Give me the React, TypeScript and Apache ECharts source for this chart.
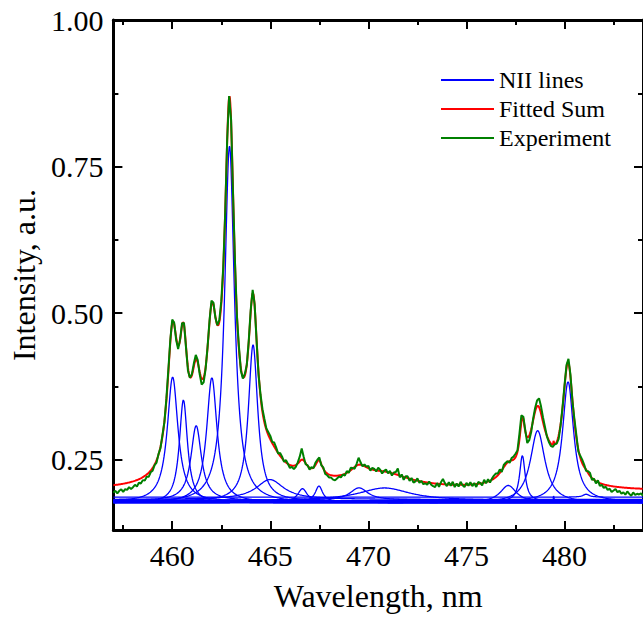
import React, { useEffect, useRef } from "react";
import * as echarts from "echarts";

const X_MIN = 457;
const X_MAX = 484;
const Y_MIN = 0.13;
const Y_MAX = 1.0;

const xTicksMajor = [460, 465, 470, 475, 480];
const xTicksMinor = [457.5, 462.5, 467.5, 472.5, 477.5, 482.5];
const yTicksMajor = [0.25, 0.5, 0.75, 1.0];
const yTicksMinor = [0.375, 0.625, 0.875];

// NII line components (centre nm, top value, own baseline, half width nm)
const peakCenter = [460.02, 460.57, 461.22, 462.02, 462.92, 464.12, 464.98, 466.64, 467.48, 469.52, 470.82, 477.13, 477.85, 478.63, 480.18, 481.1, 479.45];
const peakTop = [0.391, 0.352, 0.308, 0.39, 0.785, 0.446, 0.216, 0.2005, 0.205, 0.202, 0.2017, 0.206, 0.257, 0.2995, 0.383, 0.191, 0.19];
const peakBase = [0.178, 0.176, 0.18, 0.177, 0.176, 0.179, 0.182, 0.177, 0.178, 0.181, 0.18, 0.177, 0.179, 0.176, 0.178, 0.186, 0.18];
const peakHwhm = [0.33, 0.25, 0.32, 0.32, 0.3, 0.29, 0.85, 0.3, 0.23, 0.55, 1.6, 0.5, 0.17, 0.45, 0.34, 0.2, 0.02];

// Fitted sum: offset plus the components, plus undrawn background terms
const fitOffset = 0.196;
const fitExtraCenter = [466, 459.95, 462.45, 479.2];
const fitExtraAmp = [0.008, 0.02, 0.015, 0.012];
const fitExtraHwhm = [6, 0.25, 0.3, 0.35];

// Experiment: deviation from the fitted sum (thousandths), every 0.1 nm from 457.0
const expStart = 457.0;
const expStep = 0.1;
const expResidualMilli = [
  -13, -10, -15, -11, -9, -14, -10, -12, -8, -12,
  -10, -7, -11, -6, -9, -5, -8, -4, -7, -3,
  -5, -1, -4, 1, -2, 2, -1, 3, 5, 4,
  6, 3, -4, -6, 1, 4, 3, -2, -5, -1,
  2, 5, 8, 4, -4, -10, -8, -3, 1, 3,
  6, 3, -2, 0, 3, 5, 2, -2, 3, 2,
  3, -3, 2, -2, 4, -4, -3, 3, -1, 2,
  4, 6, 3, -2, -4, 3, 5, 6, 2, 5,
  6, 2, 7, 4, -1, 5, 3, -2, 4, 0,
  -5, -2, -6, -3, 2, 8, 19, 6, -2, 1,
  -3, 2, -1, 4, 3, 5, -2, 2, -4, -3,
  -5, -4, -7, -8, -5, -2, -4, 0, -3, 3,
  -2, 4, 1, -3, 3, 12, 4, -2, 3, 1,
  4, -3, 3, 2, -2, 5, 2, -4, 1, 4,
  -2, 3, -4, 2, 4, 11, -3, 3, -5, 2,
  3, -4, 2, -5, -2, 4, -3, 1, -4, -2,
  -4, 2, -3, -5, -6, 1, -5, 3, 9, 2,
  -3, 4, -2, 5, -4, 2, -3, 5, -1, -4,
  3, -2, 4, -3, 2, -5, 3, 1, -4, 5,
  -2, 4, -3, 2, 5, 6, 3, 6, -3, 4,
  3, 2, -3, 4, 5, 6, 2, 10, 11, 4,
  2, -10, -8, -5, 3, 6, 10, 15, 12, 8,
  5, -1, -3, -4, -4, 0, -3, -6, -2, 2,
  3, 5, 7, 4, -2, 4, 5, -3, 3, 6,
  4, -2, 3, 5, -3, 2, -4, 3, -5, -2,
  -6, -3, -8, -5, -10, -7, -4, -9, -6, -11,
  -8, -12, -6, -10, -13, -7, -11, -9, -10, -8, -12,
];

const FONT = "'Liberation Serif', 'Times New Roman', serif";
const STEP = 0.02;

function lorentzShape(x: number, c: number, a: number, g: number) {
  const d = x - c;
  return (a * g * g) / (d * d + g * g);
}

function component(x: number, i: number) {
  return lorentzShape(x, peakCenter[i], peakTop[i] - peakBase[i], peakHwhm[i]);
}

function fitted(x: number) {
  let s = fitOffset;
  for (let i = 0; i < peakCenter.length; i++) s += component(x, i);
  for (let j = 0; j < fitExtraCenter.length; j++) s += lorentzShape(x, fitExtraCenter[j], fitExtraAmp[j], fitExtraHwhm[j]);
  return s;
}

export default function App() {
  const ref = useRef<HTMLDivElement>(null);
  useEffect(() => {
    if (!ref.current) return;
    const chart = echarts.init(ref.current, undefined, { renderer: "svg" });
    const n = Math.round((X_MAX - X_MIN) / STEP);
    const xs: number[] = [];
    for (let i = 0; i <= n; i++) xs.push(+(X_MIN + i * STEP).toFixed(3));

    const compSeries = peakCenter.map((_, i) => ({
      type: "line",
      name: "NII lines",
      data: xs.map((x) => [x, peakBase[i] + component(x, i)]),
      showSymbol: false,
      symbol: "none",
      lineStyle: { color: "#0000ff", width: 1.3 },
      itemStyle: { color: "#0000ff" },
      silent: true,
      z: 2,
    }));

    const expData = expResidualMilli.map((r, i) => {
      const x = +(expStart + i * expStep).toFixed(2);
      return [x, fitted(x) + r / 1000];
    });

    const tickStyle = { color: "#000", width: 2 };
    const baseAxis = { type: "value", min: X_MIN, max: X_MAX, splitLine: { show: false } };
    const baseYAxis = { type: "value", min: Y_MIN, max: Y_MAX, splitLine: { show: false } };

    chart.setOption({
      animation: false,
      grid: { left: 110, right: -7, top: 20, bottom: 84, containLabel: false },
      legend: {
        data: ["NII lines", "Fitted Sum", "Experiment"],
        orient: "vertical",
        left: 436,
        top: 63,
        icon: "rect",
        itemWidth: 53,
        itemHeight: 2,
        itemGap: 5,
        textStyle: { fontFamily: FONT, fontSize: 24, color: "#000" },
      },
      xAxis: [
        {
          ...baseAxis,
          position: "bottom",
          axisLine: { show: true, onZero: false, lineStyle: { color: "#000", width: 3 } },
          axisTick: { show: true, inside: true, length: 9, lineStyle: tickStyle, customValues: xTicksMajor },
          axisLabel: { show: true, customValues: xTicksMajor, fontFamily: FONT, fontSize: 30, color: "#000", margin: 10 },
          name: "Wavelength, nm",
          nameLocation: "middle",
          nameGap: 50,
          nameTextStyle: { fontFamily: FONT, fontSize: 32, color: "#000" },
        },
        {
          ...baseAxis,
          position: "bottom",
          axisLine: { show: false, onZero: false },
          axisTick: { show: true, inside: true, length: 5, lineStyle: tickStyle, customValues: xTicksMinor },
          axisLabel: { show: false },
        },
        {
          ...baseAxis,
          position: "top",
          axisLine: { show: true, onZero: false, lineStyle: { color: "#000", width: 3 } },
          axisTick: { show: true, inside: true, length: 9, lineStyle: tickStyle, customValues: xTicksMajor },
          axisLabel: { show: false },
        },
        {
          ...baseAxis,
          position: "top",
          axisLine: { show: false, onZero: false },
          axisTick: { show: true, inside: true, length: 5, lineStyle: tickStyle, customValues: xTicksMinor },
          axisLabel: { show: false },
        },
      ],
      yAxis: [
        {
          ...baseYAxis,
          position: "left",
          axisLine: { show: true, onZero: false, lineStyle: { color: "#000", width: 3 } },
          axisTick: { show: true, inside: true, length: 9, lineStyle: tickStyle, customValues: yTicksMajor },
          axisLabel: {
            show: true,
            customValues: yTicksMajor,
            formatter: (v: number) => v.toFixed(2),
            fontFamily: FONT,
            fontSize: 30,
            color: "#000",
            margin: 10,
          },
          name: "Intensity, a.u.",
          nameLocation: "middle",
          nameGap: 71,
          nameTextStyle: { fontFamily: FONT, fontSize: 32, color: "#000" },
        },
        {
          ...baseYAxis,
          position: "left",
          axisLine: { show: false, onZero: false },
          axisTick: { show: true, inside: true, length: 5, lineStyle: tickStyle, customValues: yTicksMinor },
          axisLabel: { show: false },
        },
        {
          ...baseYAxis,
          position: "right",
          axisLine: { show: true, onZero: false, lineStyle: { color: "#000", width: 3 } },
          axisTick: { show: true, inside: true, length: 9, lineStyle: tickStyle, customValues: yTicksMajor },
          axisLabel: { show: false },
        },
        {
          ...baseYAxis,
          position: "right",
          axisLine: { show: false, onZero: false },
          axisTick: { show: true, inside: true, length: 5, lineStyle: tickStyle, customValues: yTicksMinor },
          axisLabel: { show: false },
        },
      ],
      series: [
        ...compSeries,
        {
          type: "line",
          name: "Fitted Sum",
          data: xs.map((x) => [x, fitted(x)]),
          showSymbol: false,
          symbol: "none",
          lineStyle: { color: "#ff0000", width: 2 },
          itemStyle: { color: "#ff0000" },
          z: 3,
        },
        {
          type: "line",
          name: "Experiment",
          data: expData,
          showSymbol: false,
          symbol: "none",
          lineStyle: { color: "#008000", width: 2 },
          itemStyle: { color: "#008000" },
          z: 4,
        },
      ],
    });
    return () => chart.dispose();
  }, []);
  return <div ref={ref} style={{ position: "absolute", left: 0, top: 0, width: 643, height: 617 }} />;
}
